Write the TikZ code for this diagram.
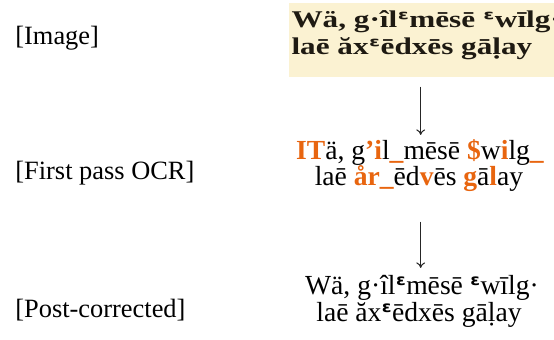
\documentclass[tikz,border=0pt]{standalone}
\usepackage{fontspec}
\setmainfont{Liberation Serif}
\newfontfamily\dvs{DejaVu Sans}
\usetikzlibrary{arrows.meta}
\definecolor{cream}{RGB}{251,242,210}
\definecolor{errc}{RGB}{232,101,15}
\definecolor{scanink}{RGB}{30,26,18}
\newcommand{\er}[1]{{\color{errc}\bfseries #1}}
\newcommand{\eps}{{\dvs\bfseries ᵋ}}
\tikzset{
  lbl/.style={anchor=base west, inner sep=0pt, font=\fontsize{13.2}{15}\selectfont},
  txt/.style={anchor=base, inner sep=0pt, font=\fontsize{13.8}{16}\selectfont},
  scan/.style={anchor=base west, inner sep=0pt, text=scanink, font=\fontsize{12}{14}\selectfont\bfseries, xscale=1.3, transform shape},
  flow/.style={-{To[length=2.8pt,width=4.4pt]}, line width=0.5pt, black!85}
}
\begin{document}
\begin{tikzpicture}[x=0.5pt, y=-0.5pt]
\useasboundingbox (0,0) rectangle (554,340);
% left labels
\node[lbl] (limg) at (15,45) {[Image]};
\node[lbl] (locr) at (15,180) {[First pass OCR]};
\node[lbl] (lpost) at (15,318) {[Post-corrected]};
% scanned image
\node[fill=cream, inner sep=0pt, minimum width=265pt*0.5, minimum height=74pt*0.5, anchor=north west] (img) at (289,3) {};
\begin{scope}
\clip (289,3) rectangle (554,77);
\node[scan] (scan1) at (291,28) {Wä, g·îl\eps mēsē \eps wīlg·};
\node[scan] (scan2) at (291,55) {laē ăx\eps ēdxēs gāḷay};
\end{scope}
% first pass OCR
\node[txt] (ocr1) at (420,160) {\er{IT}ä, g\er{’i}l\er{\_}mēsē \er{\$}w\er{i}lg\er{\_}};
\node[txt] (ocr2) at (419,186) {laē \er{år\_}ēd\er{v}ēs \er{g}ā\er{l}ay};
% post-corrected
\node[txt] (post1) at (422,295) {Wä, g·îl\eps mēsē \eps wīlg·};
\node[txt] (post2) at (419,322) {laē ăx\eps ēdxēs gāḷay};
% arrows
\coordinate (a1s) at (420.7,86.7);
\coordinate (a1e) at (420.7,135);
\coordinate (a2s) at (420.7,221.7);
\coordinate (a2e) at (420.7,268);
\draw[flow] (a1s) -- (a1e);
\draw[flow] (a2s) -- (a2e);
\end{tikzpicture}
\end{document}
